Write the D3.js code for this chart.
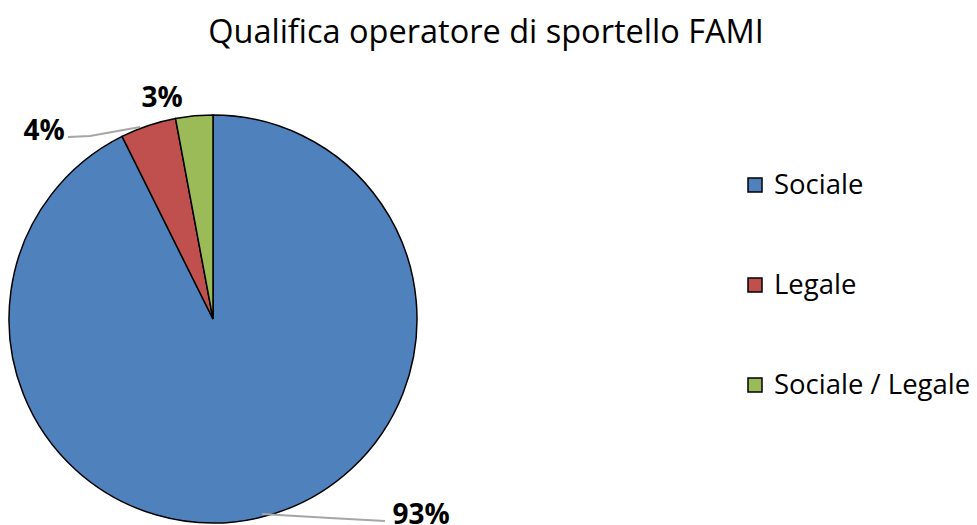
<!DOCTYPE html>
<html>
<head>
<meta charset="utf-8">
<script src="https://cdn.jsdelivr.net/npm/d3@7"></script>
<style>
  body { margin: 0; background: #ffffff; }
  svg { display: block; font-family: "Open Sans", sans-serif; }
</style>
</head>
<body>
<svg id="mySvg" width="977" height="525"></svg>
<script>
// data
var categories = ["Sociale", "Legale", "Sociale / Legale"];
var counts = [63, 3, 2];
var colours = ["#4F81BD", "#C0504D", "#9BBB59"];

// label placement for each slice, with its leader line
var labelPos = [
  { x: 421, y: 524, line: [[385, 521], [330, 518], [262, 514]] },
  { x: 44, y: 140, line: [[68, 137], [90, 136], [140, 127]] },
  { x: 162, y: 107, line: null }
];

var total = d3.sum(counts);

var svgContainer = d3.select("#mySvg");

// title
svgContainer.append("text")
  .attr("x", 486)
  .attr("y", 43)
  .attr("text-anchor", "middle")
  .attr("font-size", 32.5)
  .attr("fill", "#000")
  .text("Qualifica operatore di sportello FAMI");

var cx = 213, cy = 319, r = 204;

var pie = d3.pie().sort(null).value(function (d) { return d; });
var arc = d3.arc().innerRadius(0).outerRadius(r);
var arcs = pie(counts);

var g = svgContainer.append("g")
  .attr("transform", "translate(" + cx + "," + cy + ")");

g.selectAll("path")
  .data(arcs)
  .enter().append("path")
  .attr("d", arc)
  .attr("fill", function (d, i) { return colours[i]; })
  .attr("stroke", "#000")
  .attr("stroke-width", 1.5);

// leader lines
var line = d3.line().curve(d3.curveLinear);
svgContainer.selectAll(".leader")
  .data(labelPos.filter(function (p) { return p.line; }))
  .enter().append("path")
  .attr("class", "leader")
  .attr("d", function (p) { return line(p.line); })
  .attr("fill", "none")
  .attr("stroke", "#A6A6A6")
  .attr("stroke-width", 2);

// percent labels
svgContainer.selectAll(".pct")
  .data(counts)
  .enter().append("text")
  .attr("class", "pct")
  .attr("x", function (d, i) { return labelPos[i].x; })
  .attr("y", function (d, i) { return labelPos[i].y; })
  .attr("text-anchor", "middle")
  .attr("font-size", 28)
  .attr("font-weight", "bold")
  .attr("fill", "#000")
  .text(function (d) { return Math.round(d / total * 100) + "%"; });

// legend
var legend = svgContainer.selectAll(".legend")
  .data(categories)
  .enter().append("g")
  .attr("class", "legend")
  .attr("transform", function (d, i) { return "translate(748," + (178 + i * 100) + ")"; });

legend.append("rect")
  .attr("width", 14)
  .attr("height", 14)
  .attr("fill", function (d, i) { return colours[i]; })
  .attr("stroke", "#000")
  .attr("stroke-width", 1.5);

legend.append("text")
  .attr("x", 26)
  .attr("y", 16)
  .attr("font-size", 27.5)
  .attr("fill", "#000")
  .text(function (d) { return d; });
</script>
</body>
</html>
